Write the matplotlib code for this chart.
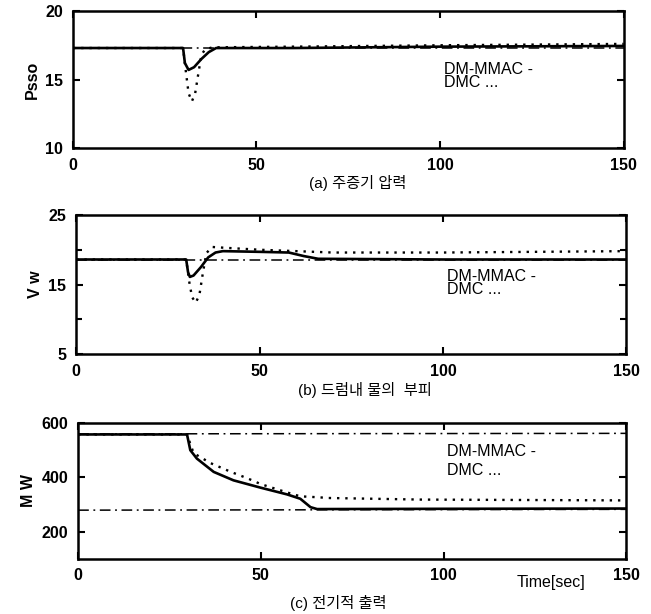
import matplotlib
matplotlib.use("Agg")
import matplotlib.pyplot as plt

plt.rcParams['font.family'] = ['Liberation Sans', 'Noto Sans CJK KR', 'DejaVu Sans']

# ---- data ----
# (a) main steam pressure
a_ref_t = [0, 150]
a_ref_v = [17.3, 17.3]
a_mmac_t = [0, 30, 30.5, 31.5, 33, 35, 37, 39, 60, 100, 150]
a_mmac_v = [17.3, 17.3, 16.2, 15.7, 15.9, 16.5, 17.0, 17.3, 17.3, 17.4, 17.45]
a_dmc_t = [0, 30, 30.8, 31.5, 32.4, 33.3, 34.2, 35, 36, 38, 60, 100, 150]
a_dmc_v = [17.3, 17.3, 15.5, 14.0, 13.4, 14.0, 15.5, 16.8, 17.2, 17.35, 17.4, 17.5, 17.6]

# (b) drum water volume
b_ref_t = [0, 150]
b_ref_v = [18.6, 18.6]
b_mmac_t = [0, 30, 30.5, 31, 32, 34, 36, 38, 40, 50, 58, 62, 66, 100, 150]
b_mmac_v = [18.6, 18.6, 16.8, 16.1, 16.3, 17.5, 18.9, 19.6, 19.8, 19.7, 19.6, 19.1, 18.7, 18.6, 18.6]
b_dmc_t = [0, 30, 30.8, 31.6, 32.6, 33.6, 34.5, 35.5, 37, 40, 50, 60, 70, 100, 150]
b_dmc_v = [18.6, 18.6, 15.5, 13.2, 12.4, 13.5, 16.5, 19.5, 20.4, 20.3, 20.0, 19.8, 19.6, 19.6, 19.8]

# (c) electric output
c_hi_t = [0, 150]
c_hi_v = [560, 562]
c_lo_t = [0, 150]
c_lo_v = [279, 282]
c_mmac_t = [0, 29.8, 30.7, 32.5, 37.1, 42.5, 49.9, 57.2, 60.8, 63.6, 65.4, 100, 150]
c_mmac_v = [558, 558, 500, 469, 420, 389, 362, 337, 321, 290, 283, 284, 285]
c_dmc_t = [0, 29.8, 31.6, 36.3, 41.8, 46.4, 50, 57, 60.8, 66.3, 68, 93.7, 148.5, 150]
c_dmc_v = [558, 558, 489, 452, 420, 396, 375, 345, 330, 326, 324, 318, 315, 315]

xticks = [0, 50, 100, 150]
legend_text = "DM-MMAC -\nDMC ..."

FS = 11.5
W = 'bold'
KR = ['Liberation Sans', 'Noto Sans CJK KR']

fig = plt.figure(figsize=(6.51, 6.14), dpi=100)

def style(ax, ylim, yticks, ylabels, minor_y):
    ax.set_xlim(0, 150)
    ax.set_ylim(*ylim)
    ax.set_xticks(xticks)
    ax.set_xticklabels([str(x) for x in xticks], fontsize=FS, fontweight=W)
    ax.set_yticks(yticks)
    ax.set_yticklabels(ylabels, fontsize=FS, fontweight=W)
    ax.set_yticks(minor_y, minor=True)
    ax.tick_params(which='both', direction='in', top=True, right=True, length=5, width=1.5, pad=7)
    ax.tick_params(which='minor', length=4)
    for s in ax.spines.values():
        s.set_linewidth(1.8)

DASHDOT = (0, (7, 3, 1.2, 3))
DOT = (0, (1, 2.5))

# panel a
ax1 = fig.add_axes([0.112, 0.759, 0.846, 0.223])
ax1.plot(a_ref_t, a_ref_v, color='black', lw=1.1, ls=DASHDOT)
ax1.plot(a_dmc_t, a_dmc_v, color='black', lw=1.7, ls=DOT)
ax1.plot(a_mmac_t, a_mmac_v, color='black', lw=1.9)
style(ax1, (10, 20), [10, 15, 20], ['10', '15', '20'], [])
ax1.set_ylabel('Psso', fontsize=FS, fontweight=W, labelpad=4)
ax1.text(101, 16.3, legend_text, fontsize=FS, va='top', ha='left', linespacing=0.85)
fig.text(0.55, 1 - 183 / 614, '(a) 주증기 압력', fontsize=11, ha='center', va='center', family=KR)

# panel b
ax2 = fig.add_axes([0.117, 0.423, 0.845, 0.227])
ax2.plot(b_ref_t, b_ref_v, color='black', lw=1.1, ls=DASHDOT)
ax2.plot(b_dmc_t, b_dmc_v, color='black', lw=1.7, ls=DOT)
ax2.plot(b_mmac_t, b_mmac_v, color='black', lw=1.9)
style(ax2, (5, 25), [5, 15, 25], ['5', '15', '25'], [10, 20])
ax2.set_ylabel('V w', fontsize=FS, fontweight=W, labelpad=4)
ax2.text(101, 17.2, legend_text, fontsize=FS, va='top', ha='left', linespacing=0.85)
fig.text(0.56, 1 - 390 / 614, '(b) 드럼내 물의  부피', fontsize=11, ha='center', va='center', family=KR)

# panel c
ax3 = fig.add_axes([0.120, 0.090, 0.842, 0.221])
ax3.plot(c_hi_t, c_hi_v, color='black', lw=1.1, ls=DASHDOT)
ax3.plot(c_lo_t, c_lo_v, color='black', lw=1.1, ls=DASHDOT)
ax3.plot(c_dmc_t, c_dmc_v, color='black', lw=1.7, ls=DOT)
ax3.plot(c_mmac_t, c_mmac_v, color='black', lw=1.9)
style(ax3, (100, 600), [200, 400, 600], ['200', '400', '600'], [])
ax3.set_ylabel('M W', fontsize=FS, fontweight=W, labelpad=4)
ax3.text(101, 522, legend_text, fontsize=FS, va='top', ha='left', linespacing=1.3)
fig.text(0.847, 1 - 582 / 614, 'Time[sec]', fontsize=FS, ha='center', va='center')
fig.text(0.52, 1 - 603 / 614, '(c) 전기적 출력', fontsize=11, ha='center', va='center', family=KR)

fig.savefig('out.png', dpi=100)
